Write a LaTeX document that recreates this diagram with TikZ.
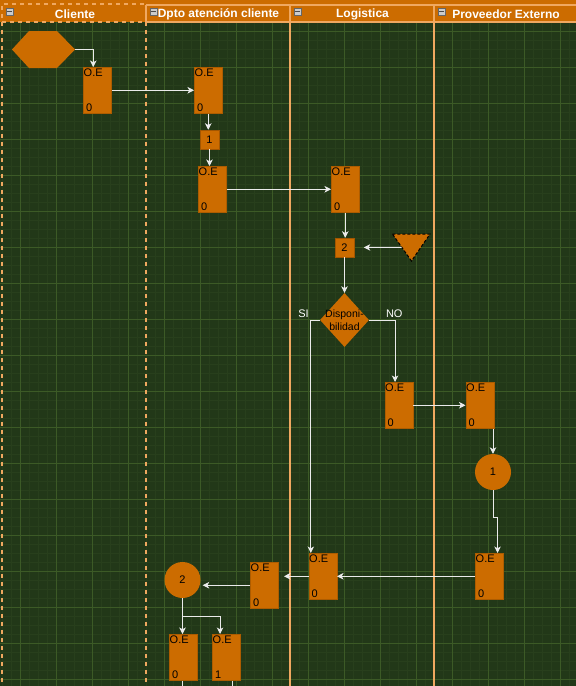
\documentclass[tikz,border=0pt]{standalone}
\usepackage{fontspec}
\setmainfont{Liberation Sans}
\usetikzlibrary{arrows.meta,calc,shapes.geometric}
\definecolor{bgc}{RGB}{34,56,24}
\definecolor{minorc}{RGB}{40,63,28}
\definecolor{majorc}{RGB}{60,90,38}
\definecolor{orng}{RGB}{204,108,0}
\definecolor{lanec}{RGB}{240,168,96}
\definecolor{linec}{RGB}{235,235,235}
\tikzset{
  minorline/.style={draw=minorc, line width=0.6pt},
  majorline/.style={draw=majorc, line width=0.9pt},
  laneline/.style={draw=lanec, line width=1.6pt},
  lanedash/.style={draw=lanec, line width=1.6pt, dash pattern=on 4pt off 4pt},
  hdr/.style={text=white, font=\fontsize{12}{14}\selectfont\bfseries, inner sep=0pt},
  icon/.style={draw=black!60, fill=gray!40!white, minimum size=7pt, inner sep=0pt,
    path picture={\draw[black!70, line width=1.2pt] ([xshift=1.2pt]path picture bounding box.west) -- ([xshift=-1.2pt]path picture bounding box.east);}},
  oebox/.style={fill=orng, draw=orng!85!black, line width=0.5pt, minimum width=28pt, minimum height=46pt, inner sep=0pt},
  oetxt/.style={text=black, font=\fontsize{11}{12}\selectfont, inner sep=0pt},
  smallsq/.style={fill=orng, draw=orng!80!black, line width=0.5pt, minimum width=19pt, minimum height=19pt, inner sep=0pt, text=black, font=\fontsize{11}{12}\selectfont},
  conncirc/.style={circle, fill=orng, minimum size=36pt, inner sep=0pt, text=black, font=\fontsize{11}{12}\selectfont},
  conn/.style={draw=linec, line width=0.9pt, -{Stealth[length=6.5pt, width=6.5pt, inset=1.8pt]}},
  plainconn/.style={draw=linec, line width=0.9pt},
  lbl/.style={text=white, font=\fontsize{11}{12}\selectfont, inner sep=0pt}
}
\newcommand\oebox[4]{%
  \node[oebox, anchor=north west] (#1) at (#2,#3) {};
  \node[oetxt, anchor=north west] (#1t) at ([shift={(0.5,1.5)}]#1.north west) {O.E};
  \node[oetxt, anchor=south west] (#1n) at ([shift={(3,-2)}]#1.south west) {#4};
}
\begin{document}
\begin{tikzpicture}[x=1pt,y=-1pt]
\useasboundingbox (0,0) rectangle (576,686);
\clip (0,0) rectangle (576,686);
% background and grid
\fill[bgc] (0,0) rectangle (576,686);
\foreach \x in {2,11,...,576} \draw[minorline] (\x,22) -- (\x,686);
\foreach \y in {22,31,...,686} \draw[minorline] (0,\y) -- (576,\y);
\foreach \x in {20,56,...,576} \draw[majorline] (\x,22) -- (\x,686);
\foreach \y in {31,67,...,686} \draw[majorline] (0,\y) -- (576,\y);
% header band
\fill[orng] (0,0) rectangle (576,22);
% lanes
\draw[laneline] (146,5) -- (146,22);
\draw[laneline] (146,5) -- (590,5);
\draw[laneline] (146,22) -- (590,22);
\draw[laneline] (290,5) -- (290,690);
\draw[laneline] (434,5) -- (434,690);
\draw[lanedash] (2,690) -- (2,4) -- (146,4);
\draw[lanedash] (146,22) -- (146,690);
\draw[lanedash] (2,22) -- (146,22);
% header icons and titles
\node[icon] (ic1) at (9.5,11.5) {};
\node[icon] (ic2) at (153.5,11.5) {};
\node[icon] (ic3) at (297.5,11.5) {};
\node[icon] (ic4) at (441.5,11.5) {};
\node[hdr] (hC) at (75,14) {Cliente};
\node[hdr] (hD) at (218.5,14) {Dpto atención cliente};
\node[hdr] (hL) at (362.5,14) {Logistica};
\node[hdr] (hP) at (506,14) {Proveedor Externo};
% hexagon start
\fill[orng] (12,49.5) -- (29,31) -- (57,31) -- (75,49.5) -- (57,68) -- (29,68) -- cycle;
\coordinate (hexE) at (75,49.5);
% O.E boxes
\oebox{A}{83}{67}{0}
\oebox{B}{194}{67}{0}
\oebox{C}{198}{166}{0}
\oebox{D}{331}{166}{0}
\oebox{E}{384.5}{382}{0}
\oebox{F}{465.5}{382}{0}
\oebox{G}{475}{553}{0}
\oebox{H}{308.5}{553}{0}
\oebox{I}{250}{562}{0}
\oebox{J}{169}{634}{0}
\oebox{K}{212}{634}{1}
% small squares
\node[smallsq] (sq1) at (209.5,139.5) {1};
\node[smallsq] (sq2) at (344.5,247.5) {2};
% triangle
\fill[orng] (392.4,234) -- (430,234) -- (411.5,261) -- cycle;
\draw[black, line width=1pt, dash pattern=on 3pt off 2pt] (392.4,234) -- (430,234) -- (411.5,261) -- cycle;
\coordinate (triL) at (401.6,247.3);
% diamond
\node[diamond, fill=orng, minimum width=49pt, minimum height=54pt, inner sep=0pt] (dia) at (344.5,320) {};
\node[align=center, text=black, font=\fontsize{10.5}{12.7}\selectfont, inner sep=0pt] (diat) at (dia.center) {Disponi-\\bilidad};
\node[lbl] (si) at (303.5,314) {SI};
\node[lbl] (no) at (394.3,314) {NO};
% circles
\node[conncirc] (c1) at (493,472) {1};
\node[conncirc] (c2) at (182.5,580) {2};
% bottom coordinates
\coordinate (jEnd) at ([xshift=-1.3]J.south |- 0,690);
\coordinate (kEnd) at ([xshift=6]K.south |- 0,690);
% connectors
\draw[conn] (hexE) -| ([xshift=-4]A.north);
\draw[conn] (A.east) -- (B.west);
\draw[conn] (B.south) -- (B.south |- sq1.north);
\draw[conn] (sq1.south) -- (sq1.south |- C.north);
\draw[conn] (C.east) -- (D.west);
\draw[conn] (D.south) -- (D.south |- sq2.north);
\draw[conn, shorten >=9.5pt] (triL) -- (sq2.east);
\draw[conn] (sq2.south) -- (dia.north);
\draw[conn] (dia.west) -| ([xshift=2.3]H.north west);
\draw[conn] (dia.east) -| ([xshift=-3.7]E.north);
\draw[conn] (E.east) -- (F.west);
\draw[conn] (c1.north |- F.south) -- (c1.north);
\draw[conn] (c1.south) -- ++(0,27) -| ([xshift=8.3]G.north);
\draw[conn] (G.west) -- (H.east);
\draw[conn, shorten >=5.5pt] (H.west) -- (H.west -| I.east);
\draw[conn, shorten >=2pt] (I.west) -- (I.west -| c2.east);
\draw[conn] (c2.south) -- (c2.south |- J.north);
\draw[conn] (c2.south) -- ++(0,18.5) -| ([xshift=-6.2]K.north);
\draw[plainconn] (jEnd |- J.south) -- (jEnd);
\draw[plainconn] (kEnd |- K.south) -- (kEnd);
\end{tikzpicture}
\end{document}
